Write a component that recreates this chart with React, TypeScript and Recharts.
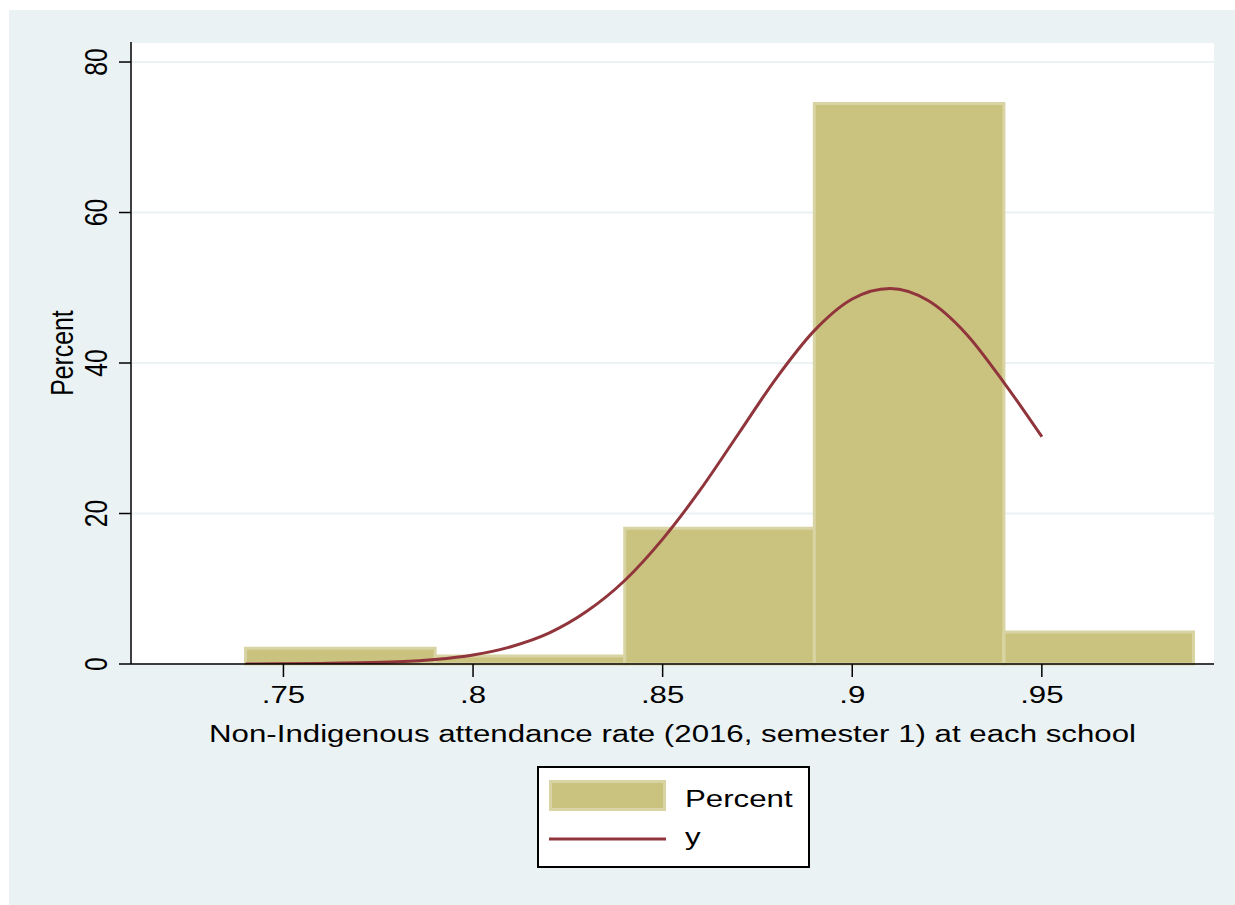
import React from "react";
import {
  ComposedChart,
  Line,
  XAxis,
  YAxis,
  CartesianGrid,
  ReferenceArea,
  Legend,
  Label,
} from "recharts";

// ---- data ----
const BIN_STARTS = [0.74, 0.79, 0.84, 0.89, 0.94];
const BIN_WIDTH = 0.05;
const PERCENTS = [2.08, 1.06, 18.03, 74.5, 4.25];

const CURVE_X = [
  0.74, 0.75, 0.76, 0.77, 0.78, 0.79, 0.8, 0.81, 0.82, 0.83, 0.84, 0.85, 0.86,
  0.87, 0.88, 0.89, 0.9, 0.91, 0.92, 0.93, 0.94, 0.95,
];
const CURVE_Y = [
  0.01, 0.03, 0.08, 0.15, 0.3, 0.6, 1.2, 2.3, 4.1, 7.0, 11.1, 16.6, 23.2, 30.6,
  38.0, 44.3, 48.5, 49.9, 48.3, 43.9, 37.4, 30.2,
];

const X_TICKS = [0.75, 0.8, 0.85, 0.9, 0.95];
const X_TICK_LABELS = [".75", ".8", ".85", ".9", ".95"];
const Y_TICKS = [0, 20, 40, 60, 80];

const X_TITLE = "Non-Indigenous attendance rate (2016, semester 1) at each school";
const Y_TITLE = "Percent";
const LEGEND_LABELS = ["Percent", "y"];

// ---- styles ----
const BG = "#EAF2F3";
const BAR_FILL = "#CAC27F";
const BAR_EDGE = "#D9D4A3";
const LINE_COLOR = "#90353B";
const FONT = "'Liberation Sans', Arial, Helvetica, sans-serif";
const FS = 24.8;
const SX = 1.26;
const LEGEND_H = 102;

const curveData = CURVE_X.map((x, i) => ({ x, y: CURVE_Y[i] }));

const XTick = (props: any) => {
  const { x, y, payload } = props;
  const idx = X_TICKS.indexOf(payload.value);
  return (
    <text
      transform={`translate(${x},${y + 26}) scale(${SX},1)`}
      textAnchor="middle"
      fontFamily={FONT}
      fontSize={FS}
      fill="#000"
    >
      {idx >= 0 ? X_TICK_LABELS[idx] : String(payload.value)}
    </text>
  );
};

const YTick = (props: any) => {
  const { x, y, payload } = props;
  return (
    <text
      transform={`translate(${x},${y}) scale(${SX},1) rotate(-90)`}
      textAnchor="middle"
      fontFamily={FONT}
      fontSize={FS}
      fill="#000"
    >
      {String(payload.value)}
    </text>
  );
};

const XTitle = (props: any) => {
  const vb = props.viewBox || {};
  const cx = vb.x + vb.width / 2;
  return (
    <text
      transform={`translate(${cx},${vb.y + 78}) scale(${SX},1)`}
      textAnchor="middle"
      fontFamily={FONT}
      fontSize={FS}
      fill="#000"
    >
      {X_TITLE}
    </text>
  );
};

const YTitle = (props: any) => {
  const vb = props.viewBox || {};
  const cy = vb.y + vb.height / 2;
  return (
    <text
      transform={`translate(${vb.x + 2},${cy}) scale(${SX},1) rotate(-90)`}
      textAnchor="middle"
      fontFamily={FONT}
      fontSize={FS}
      fill="#000"
    >
      {Y_TITLE}
    </text>
  );
};

const LegendBox = () => (
  <svg width={273} height={LEGEND_H} style={{ display: "block" }}>
    <rect x={1} y={1} width={271} height={100} fill="#fff" stroke="#000" strokeWidth={2} />
    <rect x={13.5} y={15.5} width={114} height={28} fill={BAR_FILL} stroke={BAR_EDGE} strokeWidth={3} />
    <line x1={12} x2={129} y1={73} y2={73} stroke={LINE_COLOR} strokeWidth={3} />
    <text
      transform={`translate(148,41) scale(${SX},1)`}
      fontFamily={FONT}
      fontSize={FS}
      fill="#000"
    >
      {LEGEND_LABELS[0]}
    </text>
    <text
      transform={`translate(148,79) scale(${SX},1)`}
      fontFamily={FONT}
      fontSize={FS}
      fill="#000"
    >
      {LEGEND_LABELS[1]}
    </text>
  </svg>
);

export default function App() {
  return (
    <div
      style={{
        position: "absolute",
        left: 0,
        top: 0,
        width: 1235,
        height: 905,
        background: "#fff",
      }}
    >
      <div
        style={{
          position: "absolute",
          left: 9,
          top: 10,
          width: 1226,
          height: 895,
          background: BG,
        }}
      >
        <ComposedChart
          width={1226}
          height={895}
          data={curveData}
          margin={{ top: 32, right: 21, bottom: 181 - LEGEND_H, left: 62 }}
        >
          <CartesianGrid
            horizontal
            vertical={false}
            stroke={BG}
            strokeWidth={2}
            fill="#fff"
            fillOpacity={1}
          />
          <XAxis
            dataKey="x"
            type="number"
            domain={[0.7098, 0.9954]}
            ticks={X_TICKS}
            interval={0}
            allowDataOverflow
            height={60}
            tickSize={13}
            tickMargin={0}
            tick={<XTick />}
            axisLine={{ stroke: "#000", strokeWidth: 1.5 }}
            tickLine={{ stroke: "#000", strokeWidth: 1.5 }}
          >
            <Label content={<XTitle />} />
          </XAxis>
          <YAxis
            type="number"
            domain={[0, 82.66]}
            ticks={Y_TICKS}
            interval={0}
            allowDataOverflow
            width={60}
            tickSize={12}
            tickMargin={12}
            tick={<YTick />}
            axisLine={{ stroke: "#000", strokeWidth: 1.5 }}
            tickLine={{ stroke: "#000", strokeWidth: 1.5 }}
          >
            <Label content={<YTitle />} />
          </YAxis>
          {BIN_STARTS.map((b, i) => (
            <ReferenceArea
              key={i}
              x1={b}
              x2={b + BIN_WIDTH}
              y1={0}
              y2={PERCENTS[i]}
              fill={BAR_FILL}
              fillOpacity={1}
              stroke={BAR_EDGE}
              strokeWidth={3}
              ifOverflow="extendDomain"
            />
          ))}
          <Line
            type="monotone"
            dataKey="y"
            stroke={LINE_COLOR}
            strokeWidth={3}
            dot={false}
            activeDot={false}
            isAnimationActive={false}
            legendType="none"
          />
          <Legend
            content={<LegendBox />}
            wrapperStyle={{ position: "absolute", left: 528, top: 756, width: 273, height: LEGEND_H }}
          />
        </ComposedChart>
      </div>
    </div>
  );
}
